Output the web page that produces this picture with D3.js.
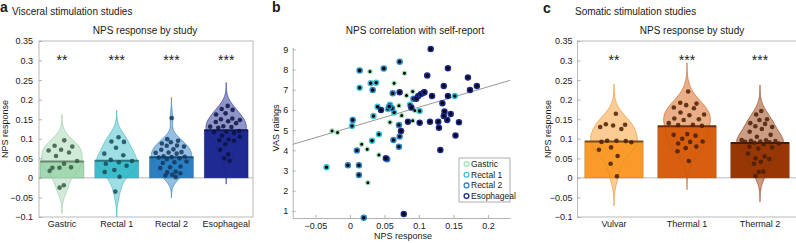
<!DOCTYPE html>
<meta charset="utf-8">
<style>
  body { margin: 0; background: #fff; }
  svg { font-family: "Liberation Sans", Arial, sans-serif; }
  text { fill: #1a1a1a; }
  .box { fill: none; stroke: #a8a8a8; stroke-width: 0.8px; }
  .axis path, .axis line { stroke: #a0a0a0; stroke-width: 0.8px; }
  .axis text { font-size: 9px; fill: #1a1a1a; }
</style>
<script src="https://cdn.jsdelivr.net/npm/d3@7"></script>
<svg id="fig" width="796" height="243"></svg>
<script>
// ---- panel a: visceral studies ----
var visceralCats = ["Gastric", "Rectal 1", "Rectal 2", "Esophageal"];
var gastric = [0.096, 0.082, 0.080, 0.072, 0.070, 0.065, 0.056, 0.043, 0.036, 0.026, 0.027, 0.026, 0.018, -0.019, -0.025];
var rectal1 = [0.104, 0.093, 0.092, 0.077, 0.062, 0.058, 0.046, 0.043, 0.040, 0.036, 0.031, 0.020, 0.015, 0.003, -0.035];
var rectal2 = [0.153, 0.099, 0.095, 0.091, 0.088, 0.083, 0.082, 0.080, 0.073, 0.072, 0.066, 0.065, 0.064, 0.062,
               0.055, 0.054, 0.053, 0.052, 0.050, 0.048, 0.042, 0.040, 0.038, 0.029, 0.027, 0.025, 0.016, 0.014,
               0.012, 0.008, 0.006, 0.002];
var esophageal = [0.184, 0.176, 0.174, 0.165, 0.162, 0.152, 0.150, 0.148, 0.145, 0.143, 0.140, 0.132, 0.131, 0.130,
                  0.128, 0.120, 0.118, 0.117, 0.115, 0.108, 0.105, 0.098, 0.096, 0.095, 0.086, 0.072, 0.060, 0.050, 0.044];
var visceralMeans = [0.042, 0.044, 0.053, 0.122];
var visceralStars = ["**", "***", "***", "***"];

// ---- panel c: somatic studies ----
var somaticCats = ["Vulvar", "Thermal 1", "Thermal 2"];
var vulvar = [0.164, 0.137, 0.136, 0.134, 0.130, 0.125, 0.095, 0.091, 0.095, 0.092, 0.094, 0.078, 0.072, 0.056, 0.036, 0.004];
var thermal1 = [0.221, 0.192, 0.190, 0.186, 0.180, 0.178, 0.167, 0.162, 0.160, 0.152, 0.150, 0.148, 0.140, 0.136,
                0.135, 0.133, 0.112, 0.110, 0.108, 0.100, 0.093, 0.092, 0.088, 0.080, 0.076, 0.068, 0.043];
var thermal2 = [0.171, 0.162, 0.150, 0.148, 0.140, 0.138, 0.132, 0.130, 0.125, 0.118, 0.110, 0.105, 0.097, 0.096,
                0.095, 0.094, 0.093, 0.092, 0.091, 0.090, 0.088, 0.086, 0.080, 0.078, 0.075, 0.062, 0.055, 0.050,
                0.048, 0.041, 0.036, 0.016, 0.015, 0.005];
var somaticMeans = [0.093, 0.132, 0.089];
var somaticStars = ["**", "***", "***"];

var barTicks = [-0.1, -0.05, 0, 0.05, 0.1, 0.15, 0.2, 0.25, 0.3, 0.35];

// ---- panel b: NPS vs VAS, [NPS response, VAS rating] ----
var scatterNames = ["Gastric", "Rectal 1", "Rectal 2", "Esophageal"];
var gastricVAS = [[-0.026, 4.96], [-0.018, 4.88], [0.017, 4.30], [0.025, 4.05], [0.026, 2.40], [0.029, 7.90],
  [0.042, 3.77], [0.058, 5.39], [0.064, 7.32], [0.071, 6.21], [0.075, 5.72], [0.079, 7.82], [0.082, 6.71],
  [0.091, 6.91], [0.091, 5.47], [0.094, 5.97]];
var rectal1VAS = [[0.014, 7.10], [0.030, 7.32], [0.038, 7.35], [0.040, 6.16], [0.034, 5.70], [0.058, 6.25],
  [0.055, 6.05], [0.064, 5.87], [0.042, 4.80], [0.032, 4.47], [0.003, 5.21], [-0.034, 3.16], [0.087, 6.25],
  [0.101, 5.95], [0.152, 6.69]];
var rectal2VAS = [[0.014, 7.95], [0.049, 8.05], [0.072, 8.39], [0.033, 6.99], [0.062, 6.83], [0.061, 6.08],
  [0.057, 6.17], [0.004, 5.50], [0.010, 3.99], [-0.003, 3.26], [0.013, 3.26], [0.013, 2.78], [0.020, 0.66],
  [0.054, 3.56], [0.063, 4.51], [0.071, 5.25], [0.072, 4.68], [0.071, 4.18], [0.092, 6.55]];
var esophagealVAS = [[0.117, 9.02], [0.142, 8.06], [0.112, 7.70], [0.171, 7.60], [0.184, 7.19], [0.174, 6.99],
  [0.136, 7.19], [0.099, 6.69], [0.103, 6.79], [0.107, 6.86], [0.108, 6.88], [0.096, 6.55], [0.119, 6.69],
  [0.142, 6.69], [0.134, 6.33], [0.072, 6.88], [0.045, 6.00], [0.052, 3.61], [0.101, 5.37], [0.116, 5.42],
  [0.128, 5.42], [0.129, 5.12], [0.137, 5.92], [0.141, 5.50], [0.146, 5.80], [0.136, 5.70], [0.158, 5.39],
  [0.153, 4.73], [0.131, 4.02], [0.084, 5.42], [0.078, 0.85], [0.074, 4.96], [0.089, 6.12]];
// fitted line as shown in the figure: [intercept, slope]
var fitLine = [5.13, 10.06];
var scatterXTicks = [-0.05, 0, 0.05, 0.1, 0.15, 0.2];
var scatterYTicks = [1, 2, 3, 4, 5, 6, 7, 8, 9];

var svg = d3.select("#fig");
var fmt = function(d) { return String(d).replace("-", "\u2212"); };

function label(x, y, txt, size, opts) {
  var t = svg.append("text").attr("x", x).attr("y", y).attr("font-size", size + "px").text(txt);
  if (opts && opts.anchor) t.attr("text-anchor", opts.anchor);
  if (opts && opts.bold) t.attr("font-weight", "bold");
  return t;
}

function barPanel(p) {
  var x = d3.scaleLinear().domain(p.xDom).range(p.xRange);
  var y = d3.scaleLinear().domain([-0.1, 0.35]).range([217, 41]);
  var clip = svg.append("clipPath").attr("id", p.id);
  clip.append("rect").attr("x", p.xRange[0]).attr("y", 41)
      .attr("width", p.xRange[1] - p.xRange[0]).attr("height", 176);
  var plot = svg.append("g").attr("clip-path", "url(#" + p.id + ")");

  plot.append("line").attr("x1", p.xRange[0]).attr("x2", p.xRange[1])
      .attr("y1", y(0)).attr("y2", y(0)).attr("stroke", "#a8a8a8").attr("stroke-width", 0.8);

  p.groups.forEach(function(vals, i) {
    var c = i + 1, col = p.colors[i];
    var n = vals.length, sd = d3.deviation(vals);
    var h = 1.06 * sd * Math.pow(n, -0.2);
    var lo = d3.min(vals) - 3 * h, hi = d3.max(vals) + 3 * h;
    var dens = function(v) { return d3.sum(vals, function(u) { return Math.exp(-0.5 * Math.pow((v - u) / h, 2)); }); };
    var pts = d3.range(0, 101).map(function(k) { var v = lo + (hi - lo) * k / 100; return { v: v, d: dens(v) }; });
    var dMax = d3.max(pts, function(d) { return d.d; });
    var hw = function(v) { return dens(v) / dMax * p.maxHalf; };

    // bar
    plot.append("rect")
        .attr("x", x(c - 0.4)).attr("width", x(c + 0.4) - x(c - 0.4))
        .attr("y", y(p.means[i])).attr("height", y(0) - y(p.means[i]))
        .attr("fill", col).attr("stroke", d3.color(col).darker(1)).attr("stroke-opacity", 0.6).attr("stroke-width", 0.7);

    // violin
    var area = d3.area().curve(d3.curveBasis)
        .y(function(d) { return y(d.v); })
        .x0(function(d) { return x(c - d.d / dMax * p.maxHalf); })
        .x1(function(d) { return x(c + d.d / dMax * p.maxHalf); });
    plot.append("path").datum(pts).attr("d", area)
        .attr("fill", col).attr("fill-opacity", 0.5)
        .attr("stroke", d3.color(col).darker(0.3)).attr("stroke-opacity", 0.7).attr("stroke-width", 0.8);

    // mean line
    plot.append("line").attr("x1", x(c - 0.4)).attr("x2", x(c + 0.4))
        .attr("y1", y(p.means[i])).attr("y2", y(p.means[i]))
        .attr("stroke", d3.color(col).darker(p.meanDark)).attr("stroke-width", 2);

    // points
    plot.selectAll(null).data(vals).enter().append("circle")
        .attr("cx", function(v, k) { var j = (((k + 1) * 0.6180339887) % 1) * 2 - 1; return x(c + hw(v) * 0.85 * j); })
        .attr("cy", function(v) { return y(v); })
        .attr("r", 2.3)
        .attr("fill", p.dots[i]).attr("fill-opacity", 0.85);

    svg.append("text").attr("x", x(c)).attr("y", y(0.31) + 8)
        .attr("text-anchor", "middle").attr("font-size", "14px").text(p.stars[i]);
    svg.append("text").attr("x", x(c)).attr("y", 227)
        .attr("text-anchor", "middle").attr("font-size", "9px").text(p.cats[i]);
  });

  svg.append("rect").attr("class", "box").attr("x", p.xRange[0]).attr("y", 41)
      .attr("width", p.xRange[1] - p.xRange[0]).attr("height", 176);

  var ax = svg.append("g").attr("class", "axis").attr("transform", "translate(" + p.xRange[0] + ",0)")
      .call(d3.axisLeft(y).tickValues(barTicks).tickFormat(fmt).tickSizeInner(-3).tickSizeOuter(0).tickPadding(p.pad));
  ax.select(".domain").remove();

  svg.append("text").attr("transform", "translate(" + p.ylabX + ",129) rotate(-90)")
      .attr("text-anchor", "middle").attr("font-size", "9px").text("NPS response");
  label(p.titleX, 34, "NPS response by study", 10, { anchor: "middle" });
}

barPanel({
  id: "clipA", cats: visceralCats, groups: [gastric, rectal1, rectal2, esophageal],
  means: visceralMeans, stars: visceralStars,
  colors: ["#a2d9b1", "#3dbdcb", "#2a80c2", "#1f2b93"],
  dots: ["#3a5a47", "#1b4a56", "#143760", "#0c1344"],
  xDom: [0.58, 4.49], xRange: [39, 253], maxHalf: 0.37, pad: 6, ylabX: 8, titleX: 145, meanDark: 1.3
});

barPanel({
  id: "clipC", cats: somaticCats, groups: [vulvar, thermal1, thermal2],
  means: somaticMeans, stars: somaticStars,
  colors: ["#f99a29", "#d85f10", "#973706"],
  dots: ["#4a1f07", "#4a1f07", "#4a1f07"],
  xDom: [0.5, 3.5], xRange: [577.5, 796.5], maxHalf: 0.32, pad: 5, ylabX: 551, titleX: 692, meanDark: 2
});

label(0, 12, "a", 14, { bold: true });
label(12, 15, "Visceral stimulation studies", 10);
label(543, 12.5, "c", 14, { bold: true });
label(575, 15, "Somatic stimulation studies", 10);

// ---- panel b ----
var sx = d3.scaleLinear().domain([-0.083, 0.232]).range([292.7, 510]);
var sy = d3.scaleLinear().domain([0.65, 9.1]).range([218, 47.3]);
var ringCols = ["#9fe3b6", "#3ec6d6", "#2e86c8", "#1c2a8c"];
var scatterSets = [gastricVAS, rectal1VAS, rectal2VAS, esophagealVAS];

svg.append("g").attr("class", "axis").attr("transform", "translate(0,218)")
    .call(d3.axisBottom(sx).tickValues(scatterXTicks).tickFormat(fmt).tickSizeInner(-3).tickSizeOuter(0).tickPadding(5));
svg.append("g").attr("class", "axis").attr("transform", "translate(292.7,0)")
    .call(d3.axisLeft(sy).tickValues(scatterYTicks).tickSizeInner(-3).tickSizeOuter(0).tickPadding(4.5));

var fitX = sx.domain();
svg.append("line")
    .attr("x1", sx(fitX[0])).attr("y1", sy(fitLine[0] + fitLine[1] * fitX[0]))
    .attr("x2", sx(fitX[1])).attr("y2", sy(fitLine[0] + fitLine[1] * fitX[1]))
    .attr("stroke", "#8c8c8c").attr("stroke-width", 0.9);

scatterSets.forEach(function(set, i) {
  svg.append("g").selectAll("circle").data(set).enter().append("circle")
      .attr("cx", function(d) { return sx(d[0]); })
      .attr("cy", function(d) { return sy(d[1]); })
      .attr("r", i === 0 ? 2.1 : 2.5)
      .attr("fill", "#000")
      .attr("stroke", ringCols[i]).attr("stroke-width", i === 0 ? 1.2 : 1.5);
});

var leg = svg.append("g");
leg.append("rect").attr("x", 459).attr("y", 158).attr("width", 51).attr("height", 44)
   .attr("fill", "#fff").attr("stroke", "#9a9a9a").attr("stroke-width", 0.8);
scatterNames.forEach(function(nm, i) {
  var yy = 164 + i * 10.7;
  leg.append("circle").attr("cx", 466.5).attr("cy", yy).attr("r", 2.4)
     .attr("fill", "#fff").attr("stroke", ringCols[i]).attr("stroke-width", 1.3);
  leg.append("text").attr("x", 471).attr("y", yy + 3).attr("font-size", "8.5px").text(nm);
});

label(272, 12, "b", 14, { bold: true });
label(415, 34, "NPS correlation with self-report", 10, { anchor: "middle" });
label(403, 239, "NPS response", 9, { anchor: "middle" });
svg.append("text").attr("transform", "translate(279,128) rotate(-90)")
   .attr("text-anchor", "middle").attr("font-size", "9px").text("VAS ratings");
</script>
